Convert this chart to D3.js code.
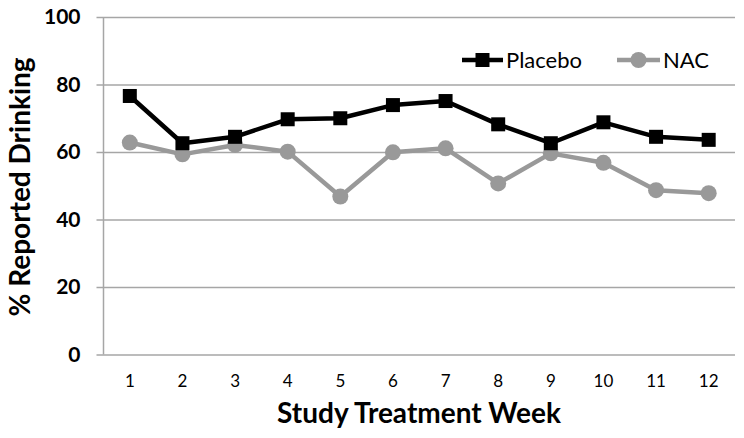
<!DOCTYPE html>
<html><head><meta charset="utf-8">
<script src="https://cdn.jsdelivr.net/npm/d3@7"></script>
<style>html,body{margin:0;padding:0;background:#fff;}svg{display:block;}</style>
</head><body>
<svg id="chart" width="744" height="438"></svg>
<script>
const weeks = [1,2,3,4,5,6,7,8,9,10,11,12];
const placebo = [76.6,62.6,64.5,69.7,70.0,73.9,75.1,68.2,62.6,68.8,64.5,63.6];
const nac = [62.8,59.3,62.1,60.1,46.8,59.9,61.1,50.7,59.6,56.8,48.7,47.8];
const yTicks = [0,20,40,60,80,100];
const seriesNames = ["Placebo","NAC"];

const svg = d3.select("#chart");
const font = "Lato, 'Open Sans', sans-serif";
const pLeft = 103.5, pRight = 735, pTop = 17, pBottom = 354.5;

const x = d3.scaleBand().domain(weeks).range([pLeft, pRight]);
const y = d3.scaleLinear().domain([0,100]).range([pBottom, pTop]);
const cx = d => x(d) + x.bandwidth()/2;

// gridlines with outside ticks
const yAxis = d3.axisLeft(y).tickValues(yTicks).tickSize(-(pRight-pLeft)).tickPadding(23).tickFormat(d3.format("d"));
const gy = svg.append("g").attr("transform", `translate(${pLeft},0)`).call(yAxis);
gy.select(".domain").remove();
gy.selectAll(".tick line").attr("stroke","#a6a6a6").attr("stroke-width",1.5).attr("x1",-7);
gy.selectAll(".tick text").attr("font-family",font).attr("font-weight","bold").attr("font-size",21).attr("fill","#000");

// vertical axis line
svg.append("line").attr("x1",pLeft).attr("x2",pLeft).attr("y1",pTop).attr("y2",pBottom)
  .attr("stroke","#a6a6a6").attr("stroke-width",1.5);

// x axis labels
const xAxis = d3.axisBottom(x).tickSize(0).tickPadding(20);
const gx = svg.append("g").attr("transform",`translate(0,${pBottom})`).call(xAxis);
gx.select(".domain").remove();
gx.selectAll(".tick text").attr("font-family",font).attr("font-size",17).attr("fill","#000");

// lines
const line = d3.line().x((d,i)=>cx(weeks[i])).y(d=>y(d));
svg.append("path").datum(nac).attr("d",line).attr("fill","none").attr("stroke","#999").attr("stroke-width",4.5).attr("stroke-linejoin","round");
svg.append("path").datum(placebo).attr("d",line).attr("fill","none").attr("stroke","#000").attr("stroke-width",4.5).attr("stroke-linejoin","round");

svg.append("g").selectAll("circle").data(nac).join("circle")
  .attr("cx",(d,i)=>cx(weeks[i])).attr("cy",d=>y(d)).attr("r",8).attr("fill","#999");
const sq = 14;
svg.append("g").selectAll("rect").data(placebo).join("rect")
  .attr("x",(d,i)=>cx(weeks[i])-sq/2).attr("y",d=>y(d)-sq/2).attr("width",sq).attr("height",sq).attr("fill","#000");

// legend
const lg = svg.append("g");
lg.append("line").attr("x1",462).attr("x2",503).attr("y1",60).attr("y2",60).attr("stroke","#000").attr("stroke-width",4.5);
lg.append("rect").attr("x",482.5-sq/2).attr("y",60-sq/2).attr("width",sq).attr("height",sq).attr("fill","#000");
lg.append("text").attr("x",506).attr("y",60).attr("dy","0.35em").attr("font-family",font).attr("font-size",22).text(seriesNames[0]);
lg.append("line").attr("x1",617).attr("x2",660).attr("y1",60).attr("y2",60).attr("stroke","#999").attr("stroke-width",4.5);
lg.append("circle").attr("cx",638.5).attr("cy",60).attr("r",8).attr("fill","#999");
lg.append("text").attr("x",663).attr("y",60).attr("dy","0.35em").attr("font-family",font).attr("font-size",22).text(seriesNames[1]);

// axis titles
svg.append("text").attr("x",419).attr("y",423).attr("text-anchor","middle").attr("font-family",font)
  .attr("font-weight","bold").attr("font-size",28).text("Study Treatment Week");
svg.append("text").attr("transform","translate(30,187) rotate(-90)").attr("text-anchor","middle").attr("font-family",font)
  .attr("font-weight","bold").attr("font-size",28).text("% Reported Drinking");
</script>
</body></html>
